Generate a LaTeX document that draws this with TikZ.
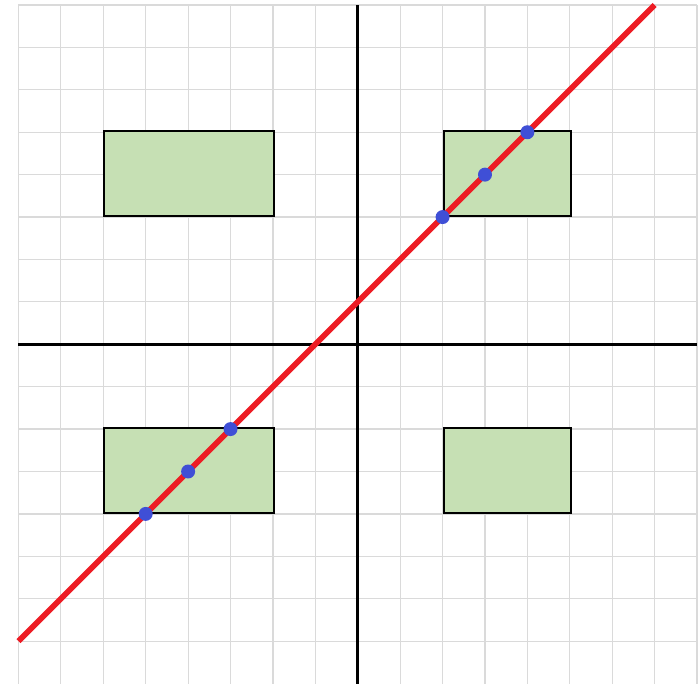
\documentclass[tikz,border=0pt]{standalone}
\usepackage{xcolor}
\usepackage{tikz}
\usetikzlibrary{positioning,calc}

\definecolor{gridgray}{HTML}{DADADA}
\definecolor{boxgreen}{HTML}{C6E0B4}
\definecolor{linered}{HTML}{ED1C24}
\definecolor{dotblue}{HTML}{3F4FD6}

\begin{document}
\begin{tikzpicture}[x=1cm, y=1cm,
    region/.style={draw=black, line width=1.3pt, fill=boxgreen, inner sep=0pt, anchor=south west},
    dot/.style={circle, fill=dotblue, inner sep=0pt, minimum size=0.33cm}]
\useasboundingbox (-8.436,-8) rectangle (8.07,8.118);

% Grid
\foreach \x in {-8,...,8} {
    \draw[gridgray, line width=0.8pt] (\x,-8.2) -- (\x,8);
}
\foreach \y in {-7,...,8} {
    \draw[gridgray, line width=0.8pt] (-8,\y) -- (8,\y);
}

% Axes
\coordinate (xl) at (-8,0);
\coordinate (xr) at (8,0);
\coordinate (yb) at (0,-8.2);
\coordinate (yt) at (0,8);
\draw[line width=2pt] (xl) -- (xr);
\draw[line width=2pt] (yb) -- (yt);

% Regions
\node[region, minimum width=4cm, minimum height=2cm] (tl) at (-6,3) {};
\node[region, minimum width=3cm, minimum height=2cm] (tr) at (2,3) {};
\node[region, minimum width=4cm, minimum height=2cm] (bl) at (-6,-4) {};
\node[region, minimum width=3cm, minimum height=2cm] (br) at (2,-4) {};

% Line y = x + 1
\coordinate (lstart) at (-8,-7);
\coordinate (lend) at (7,8);
\draw[linered, line width=3.8pt] (lstart) -- (lend);

% Points on the line
\foreach \px/\name in {2/p1, 3/p2, 4/p3, -5/q1, -4/q2, -3/q3} {
    \node[dot] (\name) at (\px,\px+1) {};
}
\end{tikzpicture}
\end{document}
